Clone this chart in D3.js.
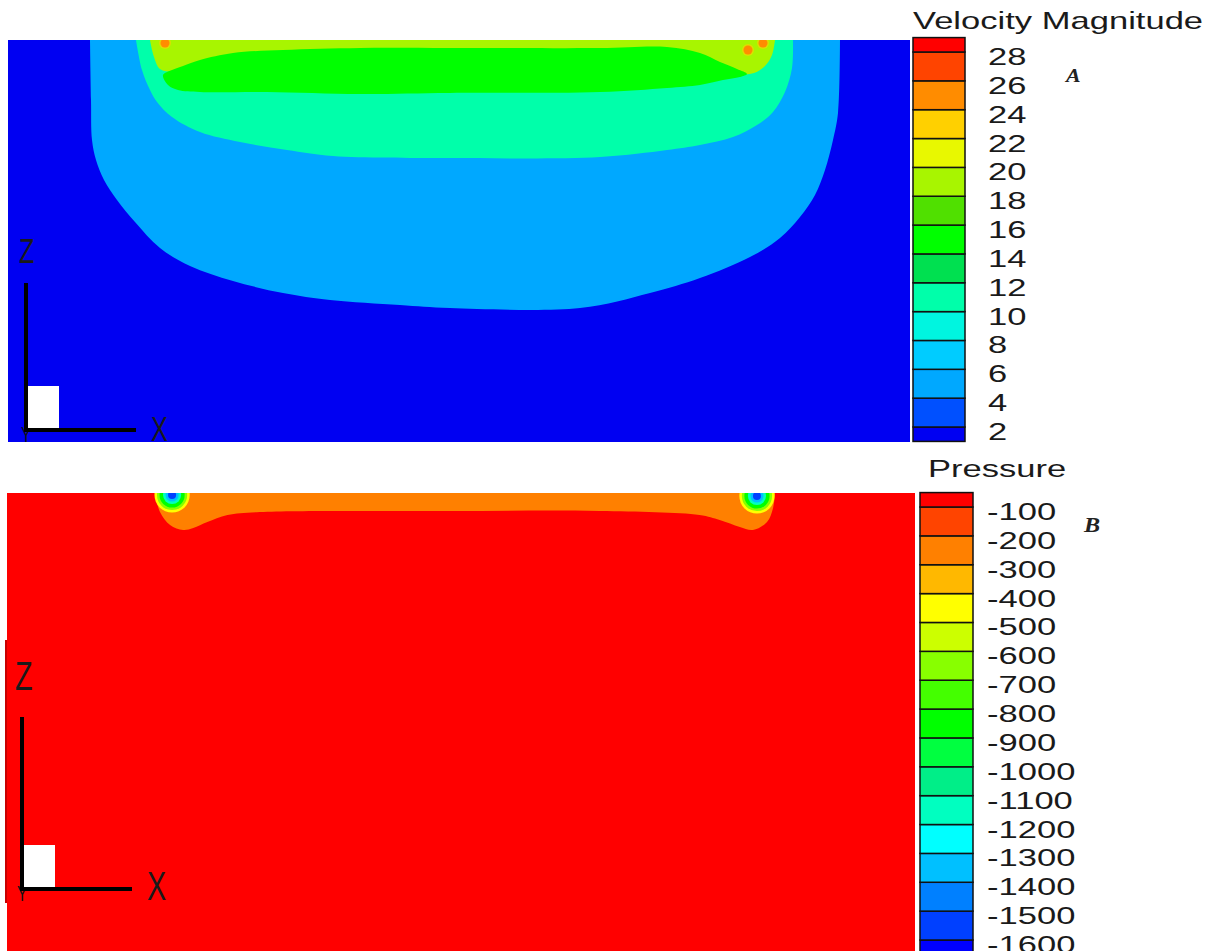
<!DOCTYPE html>
<html>
<head>
<meta charset="utf-8">
<script src="https://cdn.jsdelivr.net/npm/d3@7"></script>
<style>
  body { margin: 0; background: #fff; }
  svg { display: block; }
</style>
</head>
<body>
<svg id="chart" width="1217" height="951"></svg>
<script>
// contour levels + colours (bottom -> top of the legend)
const velLevels = [2, 4, 6, 8, 10, 12, 14, 16, 18, 20, 22, 24, 26, 28];
const velColors = ['#0000f2', '#0050ff', '#00a8ff', '#00ccff', '#00f5e0', '#00ffaa', '#00e050', '#00ff00',
                   '#50e000', '#a8f500', '#e8f800', '#ffd000', '#ff8c00', '#ff4400', '#ff0000'];
const presLevels = [-1600, -1500, -1400, -1300, -1200, -1100, -1000, -900, -800, -700, -600, -500, -400, -300, -200, -100];
const presColors = ['#0000ff', '#0040ff', '#0080ff', '#00c0ff', '#00ffff', '#00ffc0', '#00ee88', '#00ff40', '#00ff00',
                    '#44ff00', '#88ff00', '#ccff00', '#ffff00', '#ffb800', '#ff8000', '#ff4400', '#ff0000'];

// velocity field: iso-regions, [x, z] in cm
const velBackground = 1.5;
const velBlueValue = 5;
const velBlue = [[8.2, 40.2], [8.3, 34.2], [8.4, 30.2], [8.8, 28.2], [9.6, 26.2], [10.9, 24.2], [12.7, 22.0],
  [15.2, 19.4], [18.2, 17.6], [22.5, 16.1], [27.5, 14.9], [32.2, 14.2], [39.2, 13.7], [44.2, 13.4], [57.2, 13.4],
  [64.2, 14.9], [69.2, 16.4], [74.2, 18.5], [77.2, 20.4], [79.2, 22.5], [80.7, 24.7], [81.7, 27.2], [82.5, 30.2],
  [83.0, 32.9], [83.2, 40.2]];
const velAquaValue = 11;
const velAqua = [[12.8, 40.2], [13.4, 37.2], [14.2, 35.2], [14.9, 34.0], [16.4, 32.5], [19.2, 31.0], [23.2, 30.0],
  [27.9, 29.2], [32.5, 28.6], [44.2, 28.4], [59.2, 28.5], [65.9, 29.2], [69.2, 29.7], [72.5, 30.5], [74.9, 31.7],
  [76.5, 33.0], [77.7, 35.0], [78.4, 37.4], [78.5, 40.2]];
const velYellowValue = 19;
const velYellow = [[76.7, 40.2], [76.4, 38.7], [75.7, 37.6], [74.6, 36.9], [73.2, 36.8], [71.5, 37.4],
  [69.2, 38.2], [44.2, 38.6], [22.0, 38.2], [18.0, 37.2], [16.5, 37.0], [15.2, 37.3], [14.6, 38.5], [14.2, 40.2]];
const velGreenValue = 15;
const velGreen = [[15.5, 36.7], [16.4, 37.2], [17.5, 37.6], [19.2, 38.2], [22.5, 38.9], [27.5, 39.2], [35.2, 39.4],
  [44.2, 39.4], [59.2, 39.4], [65.9, 39.5], [69.2, 38.9], [71.2, 38.0], [72.9, 37.3], [73.9, 36.8], [73.2, 36.5],
  [71.5, 36.2], [69.2, 35.7], [65.9, 35.4], [59.2, 35.0], [44.2, 34.9], [35.2, 34.8], [25.9, 35.0], [19.2, 35.0],
  [17.0, 35.2], [16.0, 35.7]];
const velSpotValue = 25;
const velSpots = [[15.7, 39.9], [74.0, 39.2], [75.5, 39.9]];

// pressure field
const presBackground = -50;
const presStripValue = -250;
const presStrip = [[14.7, 46.0], [15.2, 44.1], [16.2, 42.8], [17.5, 42.3], [18.5, 42.5], [19.9, 43.1], [21.9, 43.8],
  [25.1, 44.1], [44.0, 44.2], [58.9, 44.2], [68.8, 43.8], [70.8, 43.3], [72.8, 42.6], [74.1, 42.3], [75.5, 43.1],
  [76.1, 44.5], [76.3, 46.0]];
const vortexCentres = [[16.4, 45.8], [74.5, 45.7]];
const vortexRadii = [1.75, 1.5, 1.25, 0.9, 0.65, 0.4];
const vortexValues = [-450, -650, -850, -1150, -1350, -1550];

const svg = d3.select('#chart');
const velColor = d3.scaleThreshold().domain(velLevels).range(velColors);
const presColor = d3.scaleThreshold().domain(presLevels).range(presColors);
const FONT = 'Liberation Sans, Arial, sans-serif';
const SX = 1.44; // the figure is stretched sideways

// panel scales
const xA = d3.scaleLinear().domain([0, 90.2]).range([8, 910]);
const zA = d3.scaleLinear().domain([0, 40.2]).range([442, 40]);
const xB = d3.scaleLinear().domain([0, 90.2]).range([7, 915]);
const zB = d3.scaleLinear().domain([0, 46]).range([953, 493]);

const defs = svg.append('defs');
function clip(id, x, z) {
  defs.append('clipPath').attr('id', id).append('rect')
    .attr('x', x.range()[0]).attr('y', z.range()[1])
    .attr('width', x.range()[1] - x.range()[0]).attr('height', z.range()[0] - z.range()[1]);
}
clip('clipA', xA, zA);
clip('clipB', xB, zB);

function region(g, pts, x, z, fill, closed) {
  const line = d3.line().x(d => x(d[0])).y(d => z(d[1]))
    .curve(closed ? d3.curveCatmullRomClosed.alpha(0.5) : d3.curveCatmullRom.alpha(0.5));
  g.append('path').attr('d', line(pts) + (closed ? '' : 'Z')).attr('fill', fill);
}

// ---- panel A : velocity magnitude
const gA = svg.append('g').attr('clip-path', 'url(#clipA)');
gA.append('rect').attr('x', xA(0)).attr('y', zA(40.2)).attr('width', xA(90.2) - xA(0)).attr('height', zA(0) - zA(40.2))
  .attr('fill', velColor(velBackground));
region(gA, velBlue, xA, zA, velColor(velBlueValue), false);
region(gA, velAqua, xA, zA, velColor(velAquaValue), false);
region(gA, velYellow, xA, zA, velColor(velYellowValue), false);
region(gA, velGreen, xA, zA, velColor(velGreenValue), true);
gA.selectAll('circle.halo').data(velSpots).enter().append('circle')
  .attr('cx', d => xA(d[0])).attr('cy', d => zA(d[1])).attr('r', 6).attr('fill', velColor(22.5)).attr('opacity', 0.6);
gA.selectAll('circle.spot').data(velSpots).enter().append('circle')
  .attr('cx', d => xA(d[0])).attr('cy', d => zA(d[1])).attr('r', 4.5).attr('fill', velColor(velSpotValue));

// ---- panel B : pressure
const gB = svg.append('g').attr('clip-path', 'url(#clipB)');
gB.append('rect').attr('x', xB(0)).attr('y', zB(46)).attr('width', xB(90.2) - xB(0)).attr('height', zB(0) - zB(46))
  .attr('fill', presColor(presBackground));
region(gB, presStrip, xB, zB, presColor(presStripValue), false);
vortexCentres.forEach(c => {
  vortexRadii.forEach((r, i) => {
    gB.append('circle').attr('cx', xB(c[0])).attr('cy', zB(c[1]))
      .attr('r', xB(r) - xB(0)).attr('fill', presColor(vortexValues[i]));
  });
});
svg.append('rect').attr('x', 5).attr('y', 640).attr('width', 2).attr('height', 263).attr('fill', '#c80000');

// ---- axis triads
function triad(ox, oy, len, zy, xx, fs) {
  const g = svg.append('g');
  g.append('text').attr('transform', `translate(${ox - 5},${oy + 12}) scale(0.7,1)`)
    .attr('font-family', FONT).attr('font-size', 22).attr('fill', '#111').text('Y');
  g.append('rect').attr('x', ox + 2).attr('y', oy - 44).attr('width', 31).attr('height', 44).attr('fill', '#fff');
  g.append('line').attr('x1', ox).attr('x2', ox).attr('y1', oy - len).attr('y2', oy + 2)
    .attr('stroke', '#000').attr('stroke-width', 4);
  g.append('line').attr('x1', ox - 2).attr('x2', ox + 110).attr('y1', oy).attr('y2', oy)
    .attr('stroke', '#000').attr('stroke-width', 4);
  g.append('text').attr('transform', `translate(${ox - 7},${zy}) scale(0.72,1)`)
    .attr('font-family', FONT).attr('font-size', fs).attr('fill', '#1a1a1a').text('Z');
  g.append('text').attr('transform', `translate(${xx},${oy + 11}) scale(0.72,1)`)
    .attr('font-family', FONT).attr('font-size', fs).attr('fill', '#1a1a1a').text('X');
}
triad(26, 430, 147, 263, 151, 35);
triad(22, 889, 172, 690, 147, 40);

// ---- legends
function legend(x0, w, labelX, title, titleX, titleY, levels, colors, lo, hi, yOf, tag, tagX, tagY, tagSize) {
  const g = svg.append('g');
  const edges = [lo, ...levels, hi];
  g.selectAll('rect').data(colors).enter().append('rect')
    .attr('x', x0).attr('width', w)
    .attr('y', (d, i) => yOf(edges[i + 1]))
    .attr('height', (d, i) => yOf(edges[i]) - yOf(edges[i + 1]))
    .attr('fill', d => d).attr('stroke', '#111').attr('stroke-width', 1.5);
  g.selectAll('text.tick').data(levels).enter().append('text')
    .attr('transform', d => `translate(${labelX},${yOf(d) + 13}) scale(${SX},1)`)
    .attr('font-family', FONT).attr('font-size', 24).attr('fill', '#1a1a1a').text(d => d);
  g.append('text').attr('transform', `translate(${titleX},${titleY}) scale(${SX},1)`)
    .attr('font-family', FONT).attr('font-size', 24).attr('fill', '#1a1a1a').text(title);
  g.append('text').attr('transform', `translate(${tagX},${tagY}) scale(1.15,1)`)
    .attr('font-family', 'Liberation Serif, Times New Roman, serif').attr('font-weight', 'bold')
    .attr('font-style', 'italic').attr('font-size', tagSize).attr('fill', '#222').text(tag);
}
const yV = d3.scaleLinear().domain([2, 28]).range([427, 52]);
legend(913, 52, 988, 'Velocity Magnitude', 913, 29, velLevels, velColors, 1, 29, yV, 'A', 1066, 82, 19);
const yP = d3.scaleLinear().domain([-1600, -100]).range([940, 507]);
legend(920, 53, 987, 'Pressure', 928, 477, presLevels, presColors, -1650, -50, yP, 'B', 1084, 532, 21);
</script>
</body>
</html>
